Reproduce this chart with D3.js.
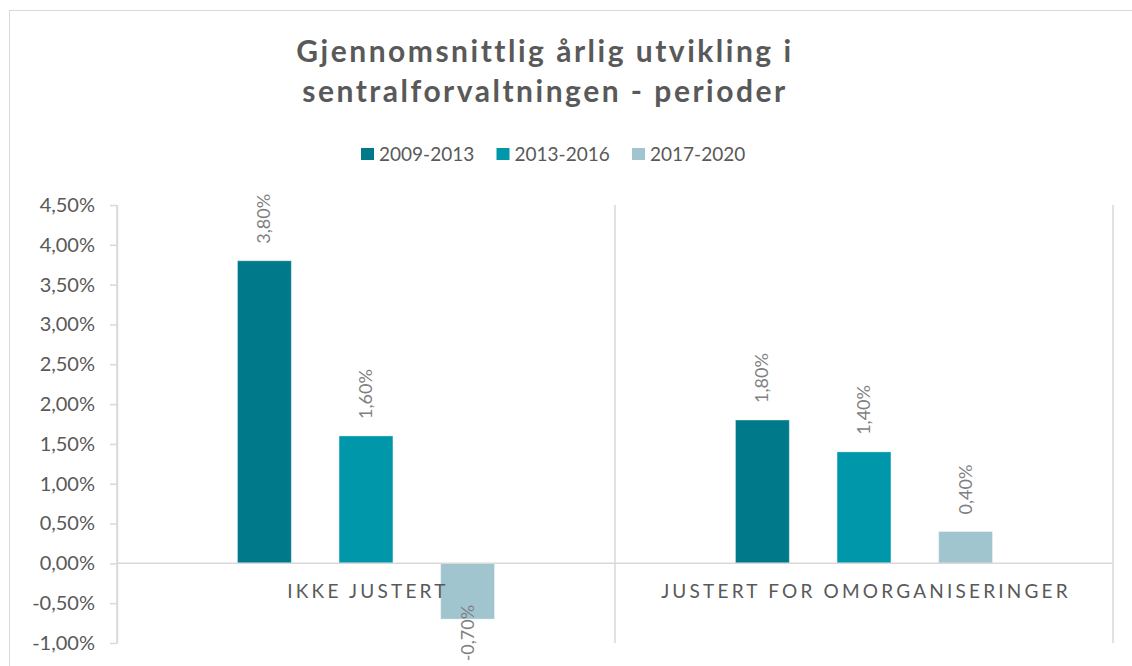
<!DOCTYPE html>
<html lang="no">
<head>
<meta charset="UTF-8">
<title>Gjennomsnittlig årlig utvikling i sentralforvaltningen - perioder</title>
<script src="https://d3js.org/d3.v7.min.js"></script>
<style>
  body { margin: 0; background: #fff; }
  svg { display: block; font-family: Lato, "Open Sans", sans-serif; }
</style>
</head>
<body>
<div id="chart"></div>
<script>
// data
const categories = ["IKKE JUSTERT", "JUSTERT FOR OMORGANISERINGER"];
const series = ["2009-2013", "2013-2016", "2017-2020"];
const values2009_2013 = [0.038, 0.018];
const values2013_2016 = [0.016, 0.014];
const values2017_2020 = [-0.007, 0.004];
const yTicks = [-0.01, -0.005, 0, 0.005, 0.01, 0.015, 0.02, 0.025, 0.03, 0.035, 0.04, 0.045];
const titleLines = ["Gjennomsnittlig årlig utvikling i", "sentralforvaltningen - perioder"];

const colors = ["#00798A", "#0097AA", "#A1C5CF"];
const seriesValues = [values2009_2013, values2013_2016, values2017_2020];

const W = 1132, H = 666;
const svg = d3.select("#chart").append("svg")
    .attr("width", W)
    .attr("height", H);

// outer chart border
svg.append("rect")
    .attr("x", 9.5).attr("y", 10.5)
    .attr("width", 1200).attr("height", 800)
    .attr("fill", "#fff")
    .attr("stroke", "#d9d9d9")
    .attr("stroke-width", 1);

const plot = {left: 117, right: 1113, top: 205, bottom: 643};

// scales
const y = d3.scaleLinear()
    .domain([d3.min(yTicks), d3.max(yTicks)])
    .range([plot.bottom, plot.top]);
const x0 = d3.scaleBand()
    .domain(categories)
    .range([plot.left, plot.right])
    .padding(0);
const x1 = d3.scaleBand()
    .domain(series)
    .range([0, x0.bandwidth()])
    .paddingInner(0.47)
    .paddingOuter(1.186);

const fmt = d => (d * 100).toFixed(2).replace(".", ",") + "%";

// title
svg.append("g").selectAll("text")
    .data(titleLines)
    .join("text")
    .attr("x", 545)
    .attr("y", (d, i) => 62 + i * 40)
    .attr("text-anchor", "middle")
    .style("font-size", "30px")
    .style("font-weight", "bold")
    .style("letter-spacing", "2.5px")
    .style("fill", "#595959")
    .text(d => d);

// legend
const legend = svg.append("g").attr("transform", "translate(361,148)");
const item = legend.selectAll("g")
    .data(series)
    .join("g")
    .attr("transform", (d, i) => `translate(${i * 135.5},0)`);
item.append("rect")
    .attr("width", 13).attr("height", 12)
    .attr("fill", (d, i) => colors[i]);
item.append("text")
    .attr("x", 18).attr("y", 12.5)
    .style("font-size", "19px")
    .style("fill", "#595959")
    .text(d => d);

// vertical gridlines between categories
const gridX = categories.map(c => x0(c)).concat([x0.range()[1]]);
svg.append("g").selectAll("line")
    .data(gridX)
    .join("line")
    .attr("x1", d => d).attr("x2", d => d)
    .attr("y1", plot.top).attr("y2", plot.bottom)
    .attr("stroke", "#d9d9d9")
    .attr("stroke-width", 1.5);

// y axis
const yAxis = svg.append("g")
    .attr("transform", `translate(${plot.left},0)`)
    .call(d3.axisLeft(y).tickValues(yTicks).tickFormat(fmt).tickSize(7).tickSizeOuter(0).tickPadding(15));
yAxis.select(".domain").attr("stroke", "#d9d9d9").attr("stroke-width", 1.5);
yAxis.selectAll(".tick line").attr("stroke", "#d9d9d9").attr("stroke-width", 1.5);
yAxis.selectAll(".tick text")
    .style("font-family", "Lato, 'Open Sans', sans-serif")
    .style("font-size", "20px")
    .style("fill", "#595959");

// bars
const groups = svg.append("g").selectAll("g")
    .data(categories)
    .join("g")
    .attr("transform", c => `translate(${x0(c)},0)`);

const barData = (c, ci) => series.map((s, si) => ({s, si, v: seriesValues[si][ci]}));

groups.selectAll("rect")
    .data((c, ci) => barData(c, ci))
    .join("rect")
    .attr("x", d => x1(d.s))
    .attr("width", x1.bandwidth())
    .attr("y", d => y(Math.max(0, d.v)))
    .attr("height", d => Math.abs(y(d.v) - y(0)))
    .attr("fill", d => colors[d.si])
    .attr("stroke", "#ffffff")
    .attr("stroke-opacity", 0.35)
    .attr("stroke-width", 1);

// category labels
svg.append("g").selectAll("text")
    .data(categories)
    .join("text")
    .attr("x", c => x0(c) + x0.bandwidth() / 2 + 2)
    .attr("y", 598)
    .attr("text-anchor", "middle")
    .style("font-size", "19px")
    .style("letter-spacing", "3.2px")
    .style("fill", "#595959")
    .text(c => c);

// zero line
svg.append("line")
    .attr("x1", plot.left).attr("x2", plot.right)
    .attr("y1", y(0)).attr("y2", y(0))
    .attr("stroke", "#d9d9d9")
    .attr("stroke-width", 1.5);

// data labels (rotated)
groups.selectAll("text")
    .data((c, ci) => barData(c, ci))
    .join("text")
    .attr("transform", d => {
        const cx = x1(d.s) + x1.bandwidth() / 2 + 6;
        const cy = d.v >= 0 ? y(d.v) - 17 : y(d.v) + 14;
        return `translate(${cx},${cy}) rotate(-90)`;
    })
    .attr("text-anchor", d => d.v >= 0 ? "start" : "middle")
    .style("font-size", "18px")
    .style("fill", "#7f7f7f")
    .text(d => fmt(d.v));
</script>
</body>
</html>
